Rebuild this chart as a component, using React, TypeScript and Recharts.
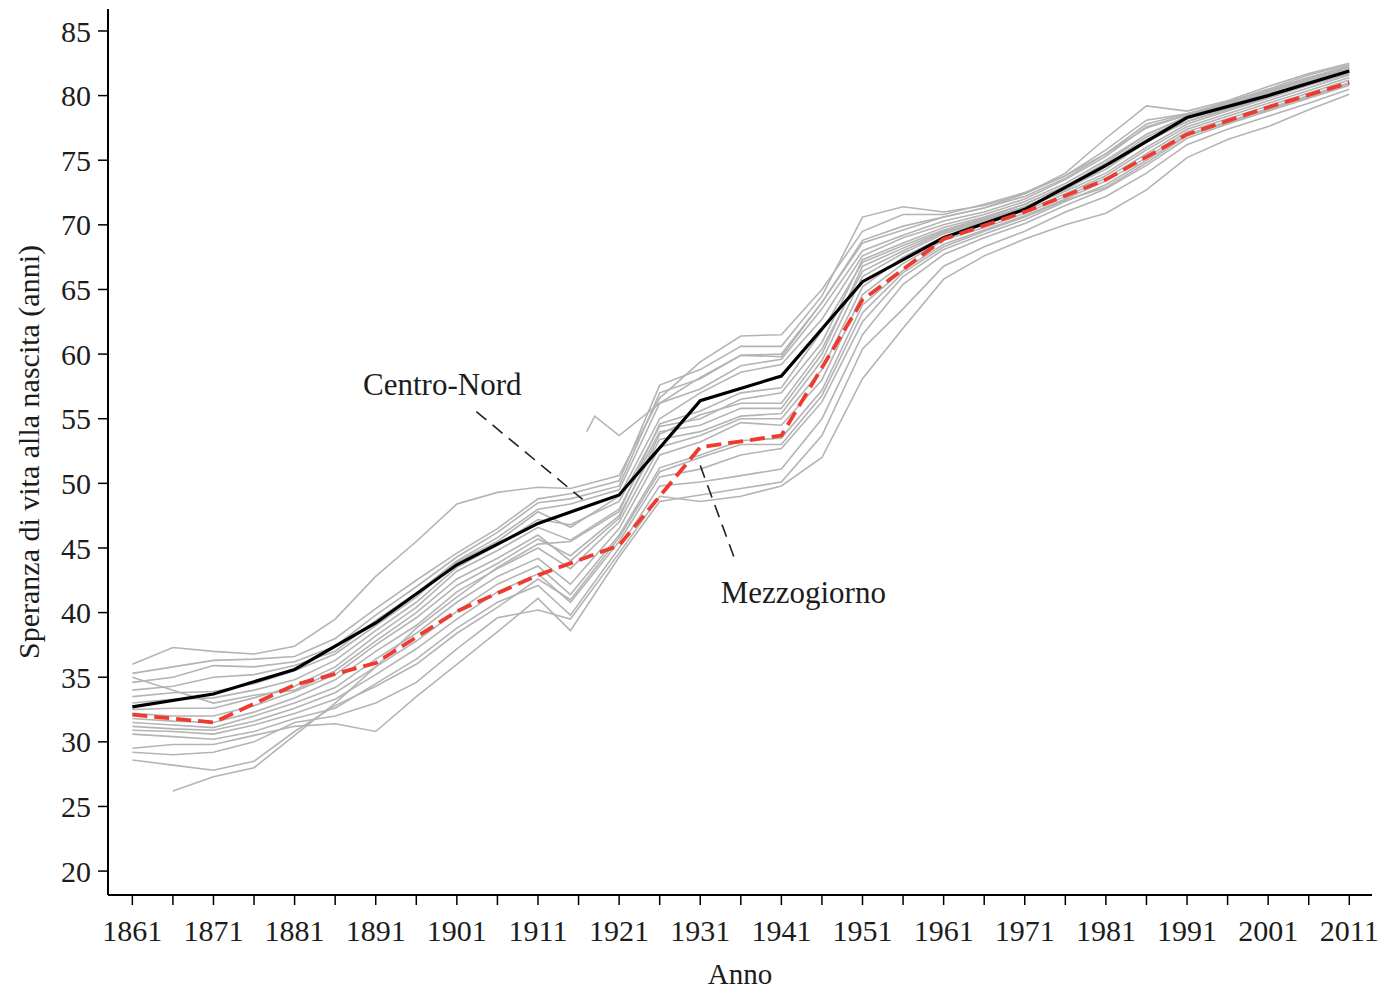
import { LineChart, Line, XAxis, YAxis, ReferenceLine, ReferenceDot } from "recharts";

// years sampled for the regional (grey) series
const years = [
  1861, 1866, 1871, 1876, 1881, 1886, 1891, 1896, 1901, 1906, 1911, 1915, 1917, 1918, 1921, 1926, 1931,
  1936, 1941, 1946, 1951, 1956, 1961, 1966, 1971, 1976, 1981, 1986, 1991, 1996, 2001, 2006, 2011,
];

// regional life expectancy (grey lines), one value per entry of `years`
const reg01 = [36.0, 37.3, 37.0, 36.8, 37.4, 39.5, 42.8, 45.5, 48.4, 49.3, 49.7, 49.6, null, null, 50.6, 56.6, 59.4, 61.4, 61.5, 65.0, 69.5, 70.8, 70.8, 71.6, 72.5, 73.8, 75.5, 77.5, 78.5, 79.5, 80.5, 81.6, 82.4];
const reg02 = [35.3, 35.8, 36.3, 36.4, 36.6, 38.0, 40.3, 42.5, 44.6, 46.5, 48.8, 49.2, null, null, 50.2, 57.6, 58.8, 60.6, 60.6, 64.5, 70.6, 71.4, 71.0, 71.5, 72.4, 74.0, 76.7, 79.2, 78.8, 79.6, 80.7, 81.7, 82.5];
const reg03 = [34.6, 35.0, 35.9, 35.8, 36.2, 37.4, 39.8, 42.0, 44.3, 46.2, 48.5, 48.8, null, null, 49.8, 57.0, 58.1, 59.9, 60.0, 64.0, 68.6, 69.6, 70.6, 71.3, 72.4, 73.8, 75.8, 78.1, 78.6, 79.5, 80.4, 81.4, 82.2];
const reg04 = [34.0, 34.3, 35.0, 35.2, 35.9, 37.0, 39.4, 41.5, 44.0, 45.8, 48.0, 48.4, null, null, 49.5, 56.2, 57.3, 59.1, 59.6, 63.5, 68.0, 69.2, 70.3, 71.0, 72.0, 73.5, 75.3, 77.6, 78.5, 79.3, 80.3, 81.3, 82.1];
const reg05 = [33.5, 33.8, 33.9, 34.5, 35.5, 36.8, 39.0, 41.2, 43.9, 45.5, 47.8, 46.6, null, null, 49.0, 55.0, 57.0, 58.6, 59.2, 62.7, 67.6, 69.0, 70.0, 70.8, 71.8, 73.2, 75.0, 77.0, 78.3, 79.2, 80.1, 81.1, 82.0];
const reg06 = [33.0, 33.3, 33.4, 34.0, 34.8, 36.3, 38.6, 40.8, 43.5, 45.2, 47.2, 46.8, null, null, 48.6, 54.4, 55.0, 56.5, 57.0, 60.9, 67.3, 68.6, 69.8, 70.6, 71.6, 73.0, 74.6, 76.8, 78.2, 79.1, 80.0, 81.0, 81.9];
const reg07 = [32.5, 32.6, 32.6, 33.4, 34.3, 35.8, 38.2, 40.4, 43.2, 44.8, 46.6, 45.6, null, null, 48.0, 54.0, 54.5, 55.8, 55.8, 60.0, 66.8, 68.2, 69.5, 70.4, 71.4, 72.8, 74.3, 76.4, 78.0, 79.0, 79.9, 80.9, 81.8];
const reg08 = [32.2, 32.0, 32.0, 32.8, 33.9, 35.2, 37.5, 39.6, 42.1, 43.8, 45.7, 44.4, null, null, 47.5, 53.4, 54.0, 55.2, 55.4, 59.5, 66.0, 67.8, 69.3, 70.2, 71.3, 72.6, 74.0, 76.0, 77.8, 78.8, 79.8, 80.8, 81.7];
const reg09 = [31.8, 31.6, 31.5, 32.3, 33.4, 34.8, 37.0, 39.0, 41.6, 43.4, 45.0, 43.4, null, null, 47.0, 52.8, 53.7, 55.0, 55.0, 58.8, 65.2, 67.5, 69.1, 70.0, 71.1, 72.4, 73.8, 75.8, 77.6, 78.6, 79.6, 80.6, 81.6];
const reg10 = [31.5, 31.3, 31.1, 32.0, 33.0, 34.2, 36.4, 38.4, 40.8, 42.8, 44.2, 42.2, null, null, 46.5, 52.2, 53.2, 54.7, 54.5, 58.0, 64.6, 67.0, 68.8, 69.8, 70.9, 72.2, 73.6, 75.5, 77.4, 78.4, 79.4, 80.4, 81.4];
const reg11 = [31.2, 31.0, 30.9, 31.6, 32.6, 33.8, 35.8, 37.8, 40.1, 42.2, 43.6, 41.4, null, null, 46.0, 51.2, 52.2, 53.3, 53.5, 57.2, 63.8, 66.5, 68.5, 69.6, 70.7, 72.0, 73.4, 75.2, 77.2, 78.2, 79.2, 80.2, 81.2];
const reg12 = [30.9, 30.8, 30.6, 31.3, 32.2, 33.3, 35.2, 37.2, 39.5, 41.6, 43.0, 40.8, null, null, 45.5, 50.5, 51.1, 52.2, 52.7, 56.3, 62.5, 66.0, 68.1, 69.3, 70.4, 71.8, 73.1, 75.0, 77.0, 78.0, 79.0, 80.0, 81.0];
const reg13 = [30.6, 30.4, 30.2, 30.8, 31.8, 32.6, 34.5, 36.4, 38.8, 40.8, 42.1, 39.8, null, null, 45.0, 49.8, 50.1, 50.6, 51.1, 55.0, 61.5, 65.4, 67.7, 69.0, 70.1, 71.5, 72.8, 74.6, 76.7, 77.8, 78.8, 79.8, 80.8];
const reg14 = [29.5, 29.8, 29.8, 30.5, 31.2, 31.4, 30.8, 33.5, 36.0, 38.5, 41.1, 38.6, null, null, 44.3, 48.6, 49.1, 49.6, 50.1, 53.7, 60.4, 63.5, 66.8, 68.3, 69.5, 71.0, 72.2, 74.0, 76.2, 77.4, 78.4, 79.4, 80.5];
const reg15 = [29.2, 29.0, 29.2, 30.0, 31.5, 32.0, 33.0, 34.6, 37.2, 39.6, 40.2, 39.5, null, null, 44.6, 49.0, 48.6, 49.0, 49.8, 52.0, 58.1, 62.0, 65.8, 67.6, 68.9, 70.0, 70.9, 72.7, 75.2, 76.6, 77.6, 78.9, 80.1];
const reg16 = [28.6, 28.2, 27.8, 28.5, 30.8, 32.8, 34.3, 36.0, 38.4, 40.4, 42.6, 41.0, null, null, 45.8, 50.9, 52.0, 53.0, 53.0, 56.8, 63.2, 66.3, 68.3, 69.5, 70.6, 71.9, 72.9, 74.8, 76.9, 77.9, 78.9, 79.9, 80.9];
const reg17 = [null, 26.2, 27.3, 28.0, 30.5, 33.0, 35.8, 38.8, 41.2, 43.5, 45.3, 45.5, null, null, 47.8, 54.6, 55.6, 57.0, 57.4, 61.8, 67.1, 68.4, 69.6, 70.5, 71.6, 73.0, 74.8, 77.0, 78.4, 79.3, 80.2, 81.2, 82.1];
const reg18 = [35.0, 34.0, 33.0, 33.6, 34.0, 35.5, 37.8, 40.0, 42.6, 44.2, 46.0, 44.0, null, null, 47.3, 53.8, 55.3, 56.2, 56.2, 60.4, 66.4, 68.0, 69.4, 70.3, 71.4, 72.7, 74.5, 76.6, 78.0, 78.9, 79.9, 80.9, 81.8];
const reg19 = [null, null, null, null, null, null, null, null, null, null, null, null, 54.0, 55.2, 53.7, 56.2, 58.2, 59.9, 59.8, 64.0, 68.8, 69.9, 70.6, 71.3, 72.2, 73.6, 75.5, 77.8, 78.6, 79.4, 80.4, 81.4, 82.3];

const regions = [reg01, reg02, reg03, reg04, reg05, reg06, reg07, reg08, reg09, reg10, reg11, reg12, reg13, reg14, reg15, reg16, reg17, reg18, reg19];

// census years for the two macro-areas
const censusYears = [1861, 1871, 1881, 1891, 1901, 1911, 1921, 1931, 1941, 1951, 1961, 1971, 1981, 1991, 2001, 2011];
const centroNord = [32.7, 33.7, 35.6, 39.2, 43.7, 46.9, 49.1, 56.4, 58.3, 65.6, 69.0, 71.2, 74.6, 78.3, 80.0, 81.9];
const mezzogiorno = [32.1, 31.5, 34.4, 36.1, 40.1, 42.9, 45.2, 52.8, 53.7, 64.2, 68.9, 71.0, 73.5, 77.0, 79.1, 81.0];

const xTicks = [
  1861, 1866, 1871, 1876, 1881, 1886, 1891, 1896, 1901, 1906, 1911, 1916, 1921, 1926, 1931, 1936,
  1941, 1946, 1951, 1956, 1961, 1966, 1971, 1976, 1981, 1986, 1991, 1996, 2001, 2006, 2011,
];
const yTicks = [20, 25, 30, 35, 40, 45, 50, 55, 60, 65, 70, 75, 80, 85];

const rows = years.map((year, i) => {
  const row: Record<string, number | null> = { year };
  regions.forEach((r, k) => {
    row[`r${k}`] = r[i];
  });
  const c = censusYears.indexOf(year);
  row.cn = c >= 0 ? centroNord[c] : null;
  row.mz = c >= 0 ? mezzogiorno[c] : null;
  return row;
});

const FONT = "'Liberation Serif', 'DejaVu Serif', serif";
const INK = "#1c1c1c";

const YTitle = ({ viewBox }: any) => {
  const cx = viewBox.x + 28;
  const cy = viewBox.y + viewBox.height / 2;
  return (
    <text x={cx} y={cy} transform={`rotate(-90 ${cx} ${cy})`} textAnchor="middle" dominantBaseline="central"
      fontFamily={FONT} fontSize={30} fill={INK}>
      Speranza di vita alla nascita (anni)
    </text>
  );
};

const XTitle = ({ viewBox }: any) => (
  <text x={viewBox.x + viewBox.width / 2} y={viewBox.y + 79} textAnchor="middle" dominantBaseline="central"
    fontFamily={FONT} fontSize={29} fill={INK}>
    Anno
  </text>
);

export default function App() {
  return (
    <div style={{ position: "absolute", left: 0, top: 0, background: "#fff" }}>
      <LineChart width={1379} height={991} data={rows} margin={{ top: 9, right: 7, bottom: 0, left: 0 }}>
        <XAxis
          dataKey="year"
          type="number"
          domain={[1858, 2013.8]}
          ticks={xTicks}
          interval={0}
          tickFormatter={(v: number) => ((v - 1861) % 10 === 0 ? String(v) : "")}
          tickSize={10}
          tickMargin={15}
          height={96}
          axisLine={{ stroke: "#000", strokeWidth: 2 }}
          tickLine={{ stroke: "#000", strokeWidth: 1.5 }}
          tick={{ fill: INK, fontSize: 30, fontFamily: FONT }}
          label={<XTitle />}
        />
        <YAxis
          type="number"
          domain={[18.15, 86.7]}
          ticks={yTicks}
          interval={0}
          width={108}
          tickSize={10}
          tickMargin={7}
          axisLine={{ stroke: "#000", strokeWidth: 2 }}
          tickLine={{ stroke: "#000", strokeWidth: 1.5 }}
          tick={{ fill: INK, fontSize: 30, fontFamily: FONT }}
          label={<YTitle />}
        />
        {regions.map((_, k) => (
          <Line
            key={k}
            dataKey={`r${k}`}
            type="linear"
            stroke="#b4b4b4"
            strokeWidth={1.6}
            dot={false}
            activeDot={false}
            connectNulls
            isAnimationActive={false}
          />
        ))}
        <Line dataKey="cn" type="linear" stroke="#000" strokeWidth={3.2} dot={false} activeDot={false}
          connectNulls isAnimationActive={false} />
        <Line dataKey="mz" type="linear" stroke="#ee3a2f" strokeWidth={3.8} strokeDasharray="15 7" dot={false}
          activeDot={false} connectNulls isAnimationActive={false} />
        <ReferenceLine segment={[{ x: 1903.4, y: 55.55 }, { x: 1916.5, y: 48.76 }]} stroke="#222"
          strokeWidth={1.6} strokeDasharray="13 8" />
        <ReferenceLine segment={[{ x: 1931.0, y: 51.38 }, { x: 1935.3, y: 44.05 }]} stroke="#222"
          strokeWidth={1.6} strokeDasharray="13 8" />
        <ReferenceDot x={1899.2} y={57.7} r={0} stroke="none" fill="none"
          label={{ value: "Centro-Nord", position: "center", fill: INK, fontSize: 31, fontFamily: FONT }} />
        <ReferenceDot x={1943.7} y={41.6} r={0} stroke="none" fill="none"
          label={{ value: "Mezzogiorno", position: "center", fill: INK, fontSize: 31, fontFamily: FONT }} />
      </LineChart>
    </div>
  );
}
